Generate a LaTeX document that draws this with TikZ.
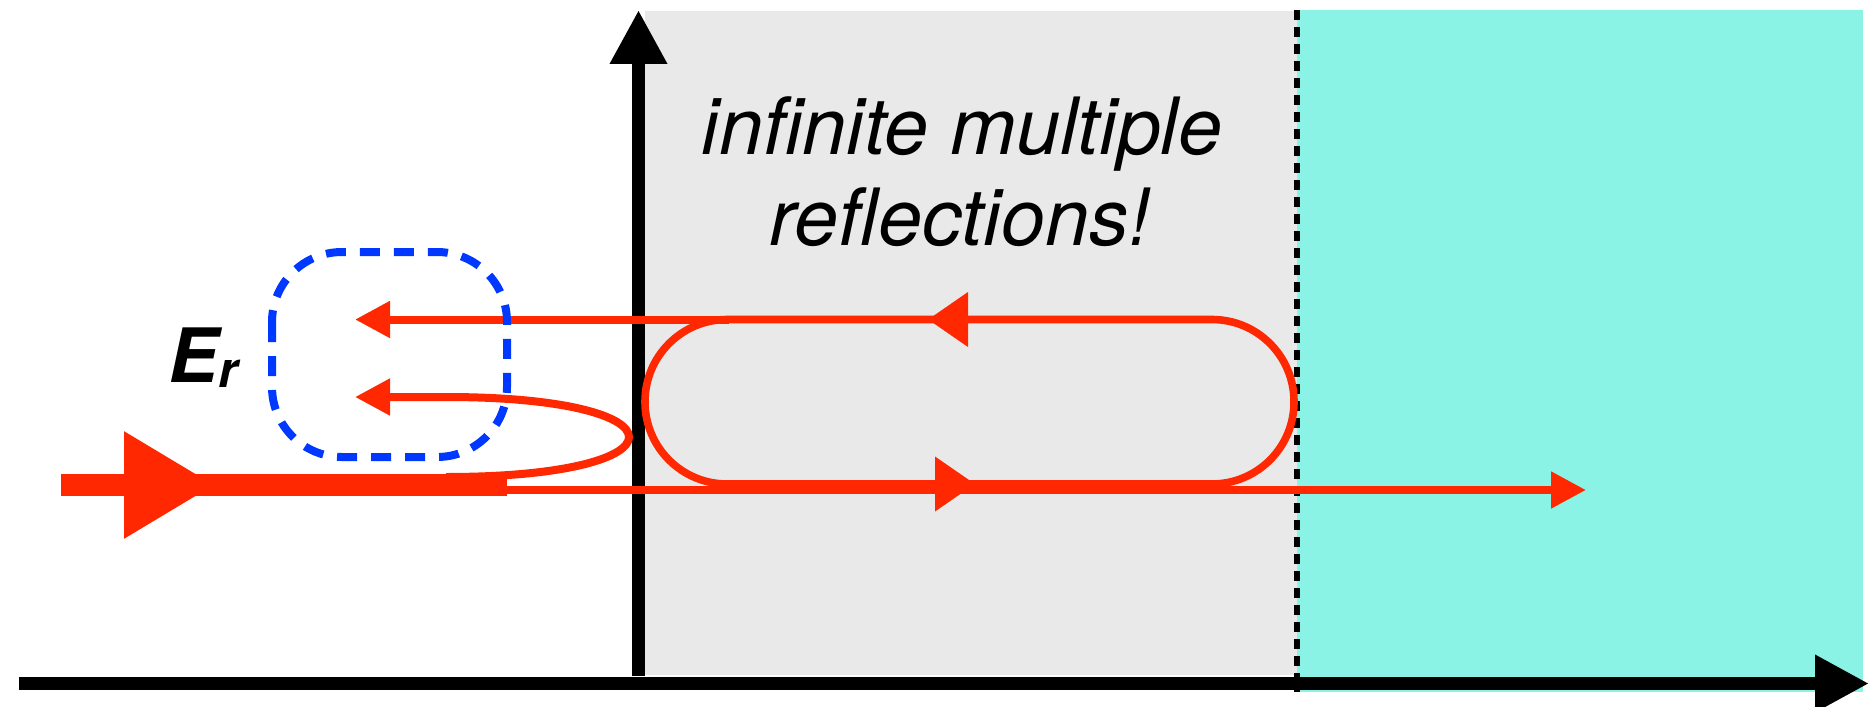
\documentclass[tikz,border=0pt]{standalone}
\usepackage{fontspec}
\setmainfont{TeX Gyre Heros}
\usetikzlibrary{arrows.meta}
\definecolor{ray_color}{RGB}{255,40,0}
\definecolor{probe_color}{RGB}{0,56,255}
\definecolor{slab_color}{RGB}{233,233,233}
\definecolor{substrate_color}{RGB}{139,243,230}
\tikzset{
  axislink/.style={-{Triangle[length=27pt,width=27pt]}, line width=6.5pt, black},
  incident/.style={line width=11pt, ray_color},
  incidenthead/.style={-{Triangle[length=45.5pt,width=50.5pt]}, line width=11pt, ray_color},
  looplink/.style={line width=3.8pt, ray_color},
  loophead/.style={-{Triangle[length=20pt,width=26.5pt]}, line width=3.8pt, ray_color},
  raylink/.style={-{Triangle[length=17.5pt,width=17.5pt]}, line width=4pt, ray_color},
  probebox/.style={draw=probe_color, line width=4pt, dash pattern=on 10pt off 7pt,
    rounded corners=35pt},
  boundary/.style={black, line width=3pt, dash pattern=on 5pt off 3.5pt},
  slabtext/.style={anchor=base, font=\fontsize{39.5}{45}\selectfont\itshape}
}

\begin{document}
\begin{tikzpicture}[x=0.5pt, y=-0.5pt]
\useasboundingbox (0,0) rectangle (1871,706);

% media
\fill[slab_color] (645,11) rectangle (1297,675);
\fill[substrate_color] (1297,10) rectangle (1863,692);
\draw[boundary] (1297,10) -- (1297,692);

% axes
\coordinate (origin) at (638.5,683.5);
\coordinate (x_end) at (1869,683.5);
\coordinate (x_start) at (19,683.5);
\coordinate (y_start) at (638.5,676);
\coordinate (y_end) at (638.5,10);
\draw[axislink] (x_start) -- (x_end);
\draw[axislink] (y_start) -- (y_end);

% incident beam
\coordinate (in_start) at (61,485);
\coordinate (in_tip) at (215,485);
\coordinate (in_end) at (507,485);
\draw[incident] (in_start) -- (in_end);
\draw[incidenthead] (in_start) -- (in_tip);

% transmitted beam
\coordinate (out_tip) at (1586,490);
\draw[raylink] (in_end |- out_tip) -- (out_tip);

% multiple reflections inside the slab
\draw[looplink, rounded corners=41pt] (645,319.5) rectangle (1294,484);
\draw[loophead] (1212,319.5) -- (928,319.5);
\draw[loophead] (729,484) -- (975,484);

% reflected beams
\coordinate (refl1_tip) at (355,319.5);
\coordinate (refl2_tip) at (355,397);
\coordinate (refl2_turn) at (446,477);
\draw[raylink] (729,319.5) -- (refl1_tip);
\draw[raylink] (refl2_turn) .. controls (690,477) and (690,397) .. (446,397) -- (refl2_tip);

% probed region
\draw[probebox] (272,252) rectangle (507,457);
\node[anchor=base west, inner sep=0pt] (er_label) at (168,382)
  {\fontsize{37.5}{37.5}\selectfont\bfseries\itshape E\raisebox{-2.5pt}{\fontsize{25}{25}\selectfont r}};

% label
\node[slabtext] (text_top) at (962,155) {infinite multiple};
\node[slabtext] (text_bottom) at (960,245) {reflections!};

\end{tikzpicture}
\end{document}
